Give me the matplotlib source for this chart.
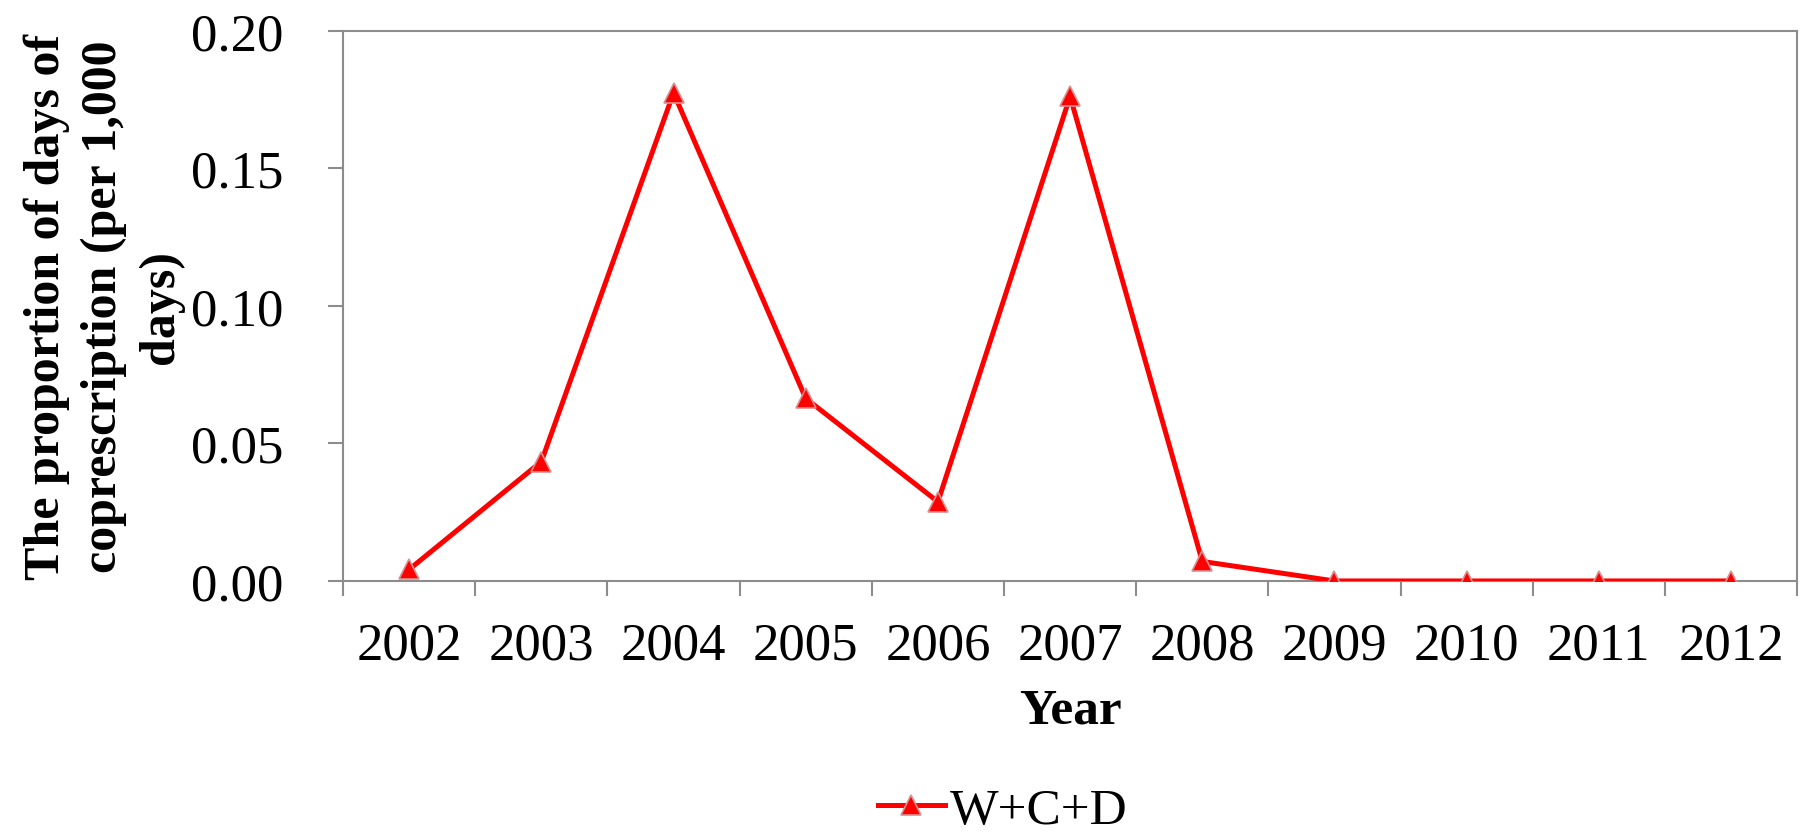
import numpy as np
import matplotlib.pyplot as plt

years = ['2002', '2003', '2004', '2005', '2006', '2007', '2008', '2009', '2010', '2011', '2012']
wcd = [0.0042, 0.0434, 0.1775, 0.0664, 0.0288, 0.1762, 0.0071, 0.0, 0.0, 0.0, 0.0]
yticks = [0.00, 0.05, 0.10, 0.15, 0.20]

plt.rcParams['font.family'] = ['Liberation Serif', 'DejaVu Serif']

fig = plt.figure(figsize=(18, 8.37), dpi=100)
ax = fig.add_axes([0.1906, 0.3047, 0.8078, 0.6571])

x = np.arange(len(years))
ax.plot(x, wcd, color='#ff0000', linewidth=3.6, marker='^', markersize=15,
        markerfacecolor='#ff0000', markeredgecolor='#d99090', markeredgewidth=1.2,
        label='W+C+D', zorder=3)

ax.set_xlim(-0.5, len(years) - 0.5)
ax.set_ylim(0, 0.20)

# category boundaries as tick marks, labels centered
ax.set_xticks(np.arange(-0.5, len(years), 1))
ax.set_xticklabels([])
ax.set_xticks(x, minor=True)
ax.set_xticklabels(years, minor=True, fontsize=38)
ax.tick_params(axis='x', which='major', length=11, width=1.5, color='#8c8c8c')
ax.tick_params(axis='x', which='minor', length=0, pad=29)

ax.set_yticks(yticks)
ax.set_yticklabels(['%.2f' % v for v in yticks], fontsize=38)
ax.tick_params(axis='y', length=11, width=1.5, color='#8c8c8c', pad=32)

for s in ax.spines.values():
    s.set_color('#8c8c8c')
    s.set_linewidth(1.5)

ax.set_xlabel('Year', fontsize=37, fontweight='bold', labelpad=13)
ax.set_ylabel('The proportion of days of\ncoprescription (per 1,000\ndays)',
              fontsize=36, fontweight='bold', linespacing=1.3, labelpad=5)

fig.legend(loc='center', bbox_to_anchor=(0.557, 0.030), frameon=False, fontsize=37,
           handlelength=1.3, handletextpad=0.1, borderpad=0)

fig.savefig('out.png', dpi=100)
